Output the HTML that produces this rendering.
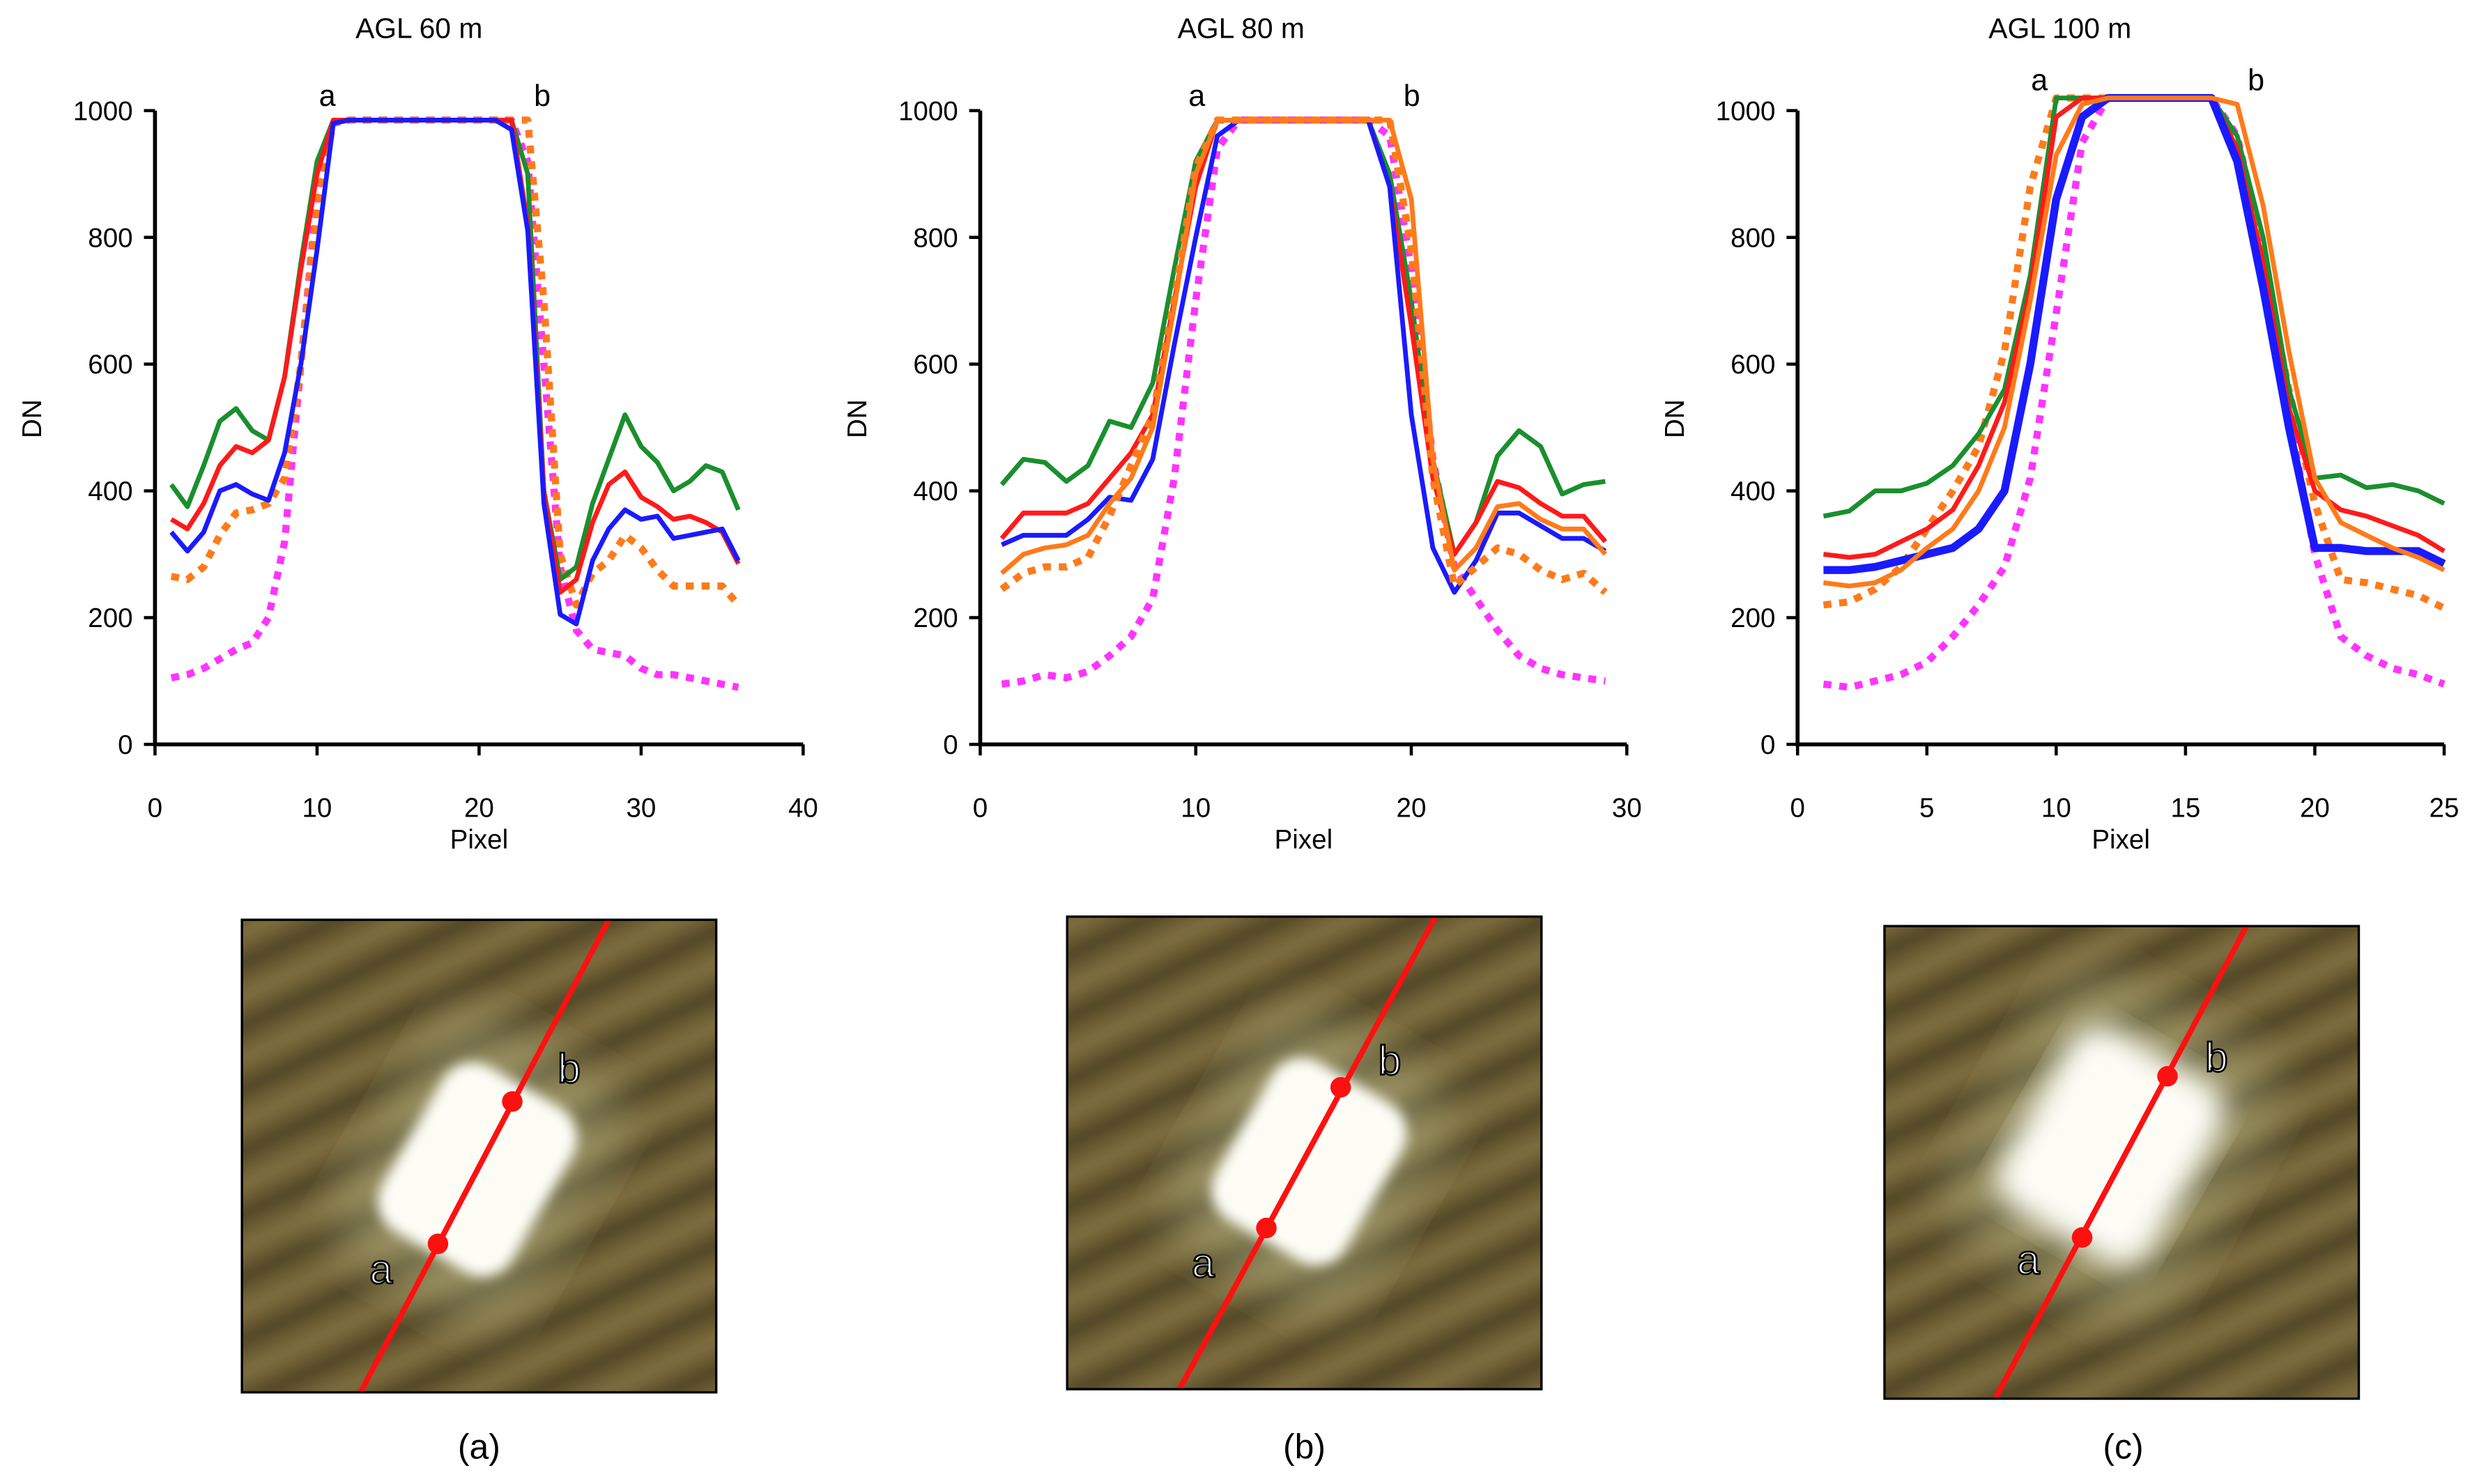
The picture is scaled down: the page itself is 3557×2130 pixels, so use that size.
<!DOCTYPE html>
<html><head><meta charset="utf-8"><style>
html,body{margin:0;padding:0;background:#fff;}
svg{display:block;font-family:"Liberation Sans",Arial,sans-serif;}
</style></head><body>
<svg id="fig" width="3557" height="2130" viewBox="0 0 1568 939" xmlns="http://www.w3.org/2000/svg">
<defs>
<pattern id="streaks" width="36" height="36" patternUnits="userSpaceOnUse" patternTransform="rotate(-25)">
<rect width="36" height="36" fill="#6e5e36"/><rect y="0" width="36" height="11" fill="#4a4024" opacity="0.8"/><rect y="20" width="36" height="8" fill="#8c7c4a" opacity="0.7"/>
</pattern>
<filter id="blur"><feGaussianBlur stdDeviation="4"/></filter>
<filter id="blurBig"><feGaussianBlur stdDeviation="9"/></filter>
<filter id="blurHuge"><feGaussianBlur stdDeviation="16"/></filter>
</defs>
<g id="charts"></g>
<g id="photos"></g>
</svg>
<script>
const NS="http://www.w3.org/2000/svg";
// ---- data ----
const c1x=[1,2,3,4,5,6,7,8,9,10,11,12,13,14,15,16,17,18,19,20,21,22,23,24,25,26,27,28,29,30,31,32,33,34,35,36];
const c1green=[410,375,440,510,530,495,480,580,760,920,985,985,985,985,985,985,985,985,985,985,985,985,900,400,260,280,380,450,520,470,445,400,415,440,430,370];
const c1red=[355,340,380,440,470,460,480,580,750,900,985,985,985,985,985,985,985,985,985,985,985,985,820,400,240,260,350,410,430,390,375,355,360,350,335,285];
const c1blue=[335,305,335,400,410,395,385,460,600,780,980,985,985,985,985,985,985,985,985,985,985,970,810,380,205,190,290,340,370,355,360,325,330,335,340,290];
const c1orangeDot=[265,260,280,330,365,370,380,420,600,850,980,985,985,985,985,985,985,985,985,985,985,985,985,700,300,220,270,290,330,310,275,250,250,250,250,220];
const c1magenta=[105,110,120,135,150,160,200,320,600,870,980,985,985,985,985,985,985,985,985,985,985,985,920,600,280,180,150,145,140,120,110,110,105,100,95,90];
const c2x=[1,2,3,4,5,6,7,8,9,10,11,12,13,14,15,16,17,18,19,20,21,22,23,24,25,26,27,28,29];
const c2green=[410,450,445,415,440,510,500,570,750,920,985,985,985,985,985,985,985,985,900,700,450,300,350,455,495,470,395,410,415];
const c2red=[325,365,365,365,380,420,460,520,700,880,985,985,985,985,985,985,985,985,880,660,420,300,350,415,405,380,360,360,320];
const c2blue=[315,330,330,330,355,390,385,450,630,800,960,985,985,985,985,985,985,985,880,520,310,240,290,365,365,345,325,325,305];
const c2orange=[270,300,310,315,330,380,420,500,690,900,985,985,985,985,985,985,985,985,985,860,450,275,310,375,380,355,340,340,300];
const c2orangeDot=[245,270,280,280,295,360,440,520,700,910,985,985,985,985,985,985,985,985,985,780,420,250,280,310,300,275,260,270,240];
const c2magenta=[95,100,110,105,115,140,170,230,420,700,940,985,985,985,985,985,985,985,960,750,450,280,230,180,140,120,110,105,100];
const c3x=[1,2,3,4,5,6,7,8,9,10,11,12,13,14,15,16,17,18,19,20,21,22,23,24,25];
const c3green=[360,368,400,400,412,440,490,560,740,1020,1020,1020,1020,1020,1020,1020,960,800,560,420,425,405,410,400,380];
const c3red=[300,295,300,320,340,370,440,540,720,990,1020,1020,1020,1020,1020,1020,940,760,530,400,370,360,345,330,305];
const c3blue=[275,275,280,290,300,310,340,400,600,860,990,1020,1020,1020,1020,1020,920,720,500,310,310,305,305,305,285];
const c3orange=[255,250,255,275,310,340,400,500,700,930,1010,1020,1020,1020,1020,1020,1010,850,620,420,350,330,310,295,275];
const c3orangeDot=[220,225,245,280,340,400,470,620,880,1020,1020,1020,1020,1020,1020,1020,930,760,560,380,260,255,245,235,215];
const c3magenta=[95,90,100,110,130,170,220,280,420,680,950,1020,1020,1020,1020,1020,960,780,520,300,170,140,120,110,95];
const yTicks=[0,200,400,600,800,1000];
const c1xTicks=[0,10,20,30,40];
const c2xTicks=[0,10,20,30];
const c3xTicks=[0,5,10,15,20,25];
const titles=["AGL 60 m","AGL 80 m","AGL 100 m"];

const GREEN="#1a8f2e",RED="#ff1a1a",BLUE="#1a1aff",ORANGE="#ff7a1a",MAG="#ff33ff";
function mk(tag,attrs,parent){const e=document.createElementNS(NS,tag);for(const k in attrs)e.setAttribute(k,attrs[k]);if(parent)parent.appendChild(e);return e;}
const root=document.getElementById('charts');
const Y0=471,Y1=70;
function yS(v){return Y0+(Y1-Y0)*v/1000;}
function chart(i,x0px,x1px,xmax,xTicks,xs,series,ab,title,tcx){
  const g=mk('g',{},root);
  
  
  const xS=v=>x0px+(x1px-x0px)*v/xmax;
  const t=mk('text',{x:tcx,y:24,'font-size':18,'text-anchor':'middle'},g);t.textContent=title;
  
  const ax=mk('path',{d:`M${x0px},${Y1} V${Y0} H${x1px}`,stroke:'#000','stroke-width':2.5,fill:'none'},g);
  
  yTicks.forEach(v=>{mk('line',{x1:x0px-7,x2:x0px,y1:yS(v),y2:yS(v),stroke:'#000','stroke-width':2},g);
    const l=mk('text',{x:x0px-14,y:yS(v)+6,'font-size':17,'text-anchor':'end'},g);l.textContent=v;
    });
  xTicks.forEach(v=>{mk('line',{x1:xS(v),x2:xS(v),y1:Y0,y2:Y0+7,stroke:'#000','stroke-width':2},g);
    const l=mk('text',{x:xS(v),y:Y0+46,'font-size':17,'text-anchor':'middle'},g);l.textContent=v;
    });
  const xl=mk('text',{x:(x0px+x1px)/2,y:537,'font-size':17,'text-anchor':'middle'},g);xl.textContent='Pixel';
  
  const yl=mk('text',{x:0,y:0,'font-size':17,'text-anchor':'middle',transform:`translate(${x0px-72},${265}) rotate(-90)`},g);yl.textContent='DN';
  
  series.forEach(s=>{
    const d=s.v.map((v,j)=>(j?'L':'M')+xS(xs[j]).toFixed(1)+','+yS(v).toFixed(1)).join(' ');
    const p=mk('path',{d:d,fill:'none',stroke:s.c,'stroke-width':s.w||3,'stroke-linejoin':'round'},g);
    if(s.dot){p.setAttribute('stroke-dasharray','5 5');p.setAttribute('stroke-width',4.5);}
    
    
  });
  ab.forEach(a=>{const l=mk('text',{x:a[1],y:a[2],'font-size':19,'text-anchor':'middle'},g);l.textContent=a[0];
    });
}
chart(0,98,508,40,c1xTicks,c1x,[
 {v:c1magenta,c:MAG,dot:1,n:'series-magenta'},{v:c1orangeDot,c:ORANGE,dot:1,n:'series-orange-dotted'},
 {v:c1green,c:GREEN,n:'series-green'},{v:c1red,c:RED,n:'series-red'},{v:c1blue,c:BLUE,n:'series-blue'}],
 [['a',207,67],['b',343,67]],titles[0],265);
chart(1,620,1029,30,c2xTicks,c2x,[
 {v:c2magenta,c:MAG,dot:1,n:'series-magenta'},{v:c2green,c:GREEN,n:'series-green'},{v:c2red,c:RED,n:'series-red'},
 {v:c2blue,c:BLUE,n:'series-blue'},{v:c2orange,c:ORANGE,n:'series-orange'},{v:c2orangeDot,c:ORANGE,dot:1,n:'series-orange-dotted'}],
 [['a',757,67],['b',893,67]],titles[1],785);
chart(2,1137,1546,25,c3xTicks,c3x,[
 {v:c3magenta,c:MAG,dot:1,n:'series-magenta'},{v:c3orangeDot,c:ORANGE,dot:1,n:'series-orange-dotted'},{v:c3green,c:GREEN,n:'series-green'},
 {v:c3red,c:RED,n:'series-red'},{v:c3blue,c:BLUE,w:5,n:'series-blue'},{v:c3orange,c:ORANGE,n:'series-orange'}],
 [['a',1290,57],['b',1427,57]],titles[2],1303);

// ---- photos ----
const photos=document.getElementById('photos');
const P=[
 {x:153,y:582,bx:302,by:740,w:95,h:120,blur:'blur',line:[228,881,385,582],a:[277,787],b:[324,697],la:[241,812],lb:[360,685],cap:[303,923,'(a)']},
 {x:675,y:580,bx:828,by:735,w:95,h:115,blur:'blur',line:[746,879,908,580],a:[801,777],b:[848,688],la:[761,808],lb:[879,680],cap:[825,923,'(b)']},
 {x:1192,y:586,bx:1335,by:725,w:110,h:130,blur:'blurBig',line:[1262,885,1421,586],a:[1317,783],b:[1371,681],la:[1283,806],lb:[1402,678],cap:[1343,923,'(c)']}];
P.forEach((p,i)=>{
  const g=mk('g',{},photos);
  
  
  const cid='clip'+i;const cp=mk('clipPath',{id:cid},g);mk('rect',{x:p.x,y:p.y,width:300,height:299},cp);
  const inner=mk('g',{'clip-path':`url(#${cid})`},g);
  mk('rect',{x:p.x,y:p.y,width:300,height:299,fill:'#65562f'},inner);
  mk('rect',{x:p.x-20,y:p.y-20,width:340,height:339,fill:'url(#streaks)',filter:'url(#blur)',opacity:0.9},inner);
  mk('rect',{x:p.bx-p.w*0.75,y:p.by-p.h*0.75,width:p.w*1.5,height:p.h*1.5,rx:40,fill:'#c8d0a0',opacity:0.35,filter:'url(#blurHuge)',transform:`rotate(30 ${p.bx} ${p.by})`},inner);
  mk('rect',{x:p.bx-p.w/2,y:p.by-p.h/2,width:p.w,height:p.h,rx:22,fill:'#fdfdf6',filter:`url(#${p.blur})`,transform:`rotate(30 ${p.bx} ${p.by})`},inner);
  const ln=mk('line',{x1:p.line[0],y1:p.line[1],x2:p.line[2],y2:p.line[3],stroke:'#ff1010','stroke-width':3.5},inner);
  
  mk('rect',{x:p.x,y:p.y,width:300,height:299,fill:'none',stroke:'#000','stroke-width':1.5},g);
  [p.a,p.b].forEach(pt=>mk('circle',{cx:pt[0],cy:pt[1],r:6.5,fill:'#ff1010'},g));
  [['a',p.la],['b',p.lb]].forEach(q=>{const t=mk('text',{x:q[1][0],y:q[1][1],'font-size':26,'text-anchor':'middle',fill:'#fff',stroke:'#000','stroke-width':1.2},g);t.textContent=q[0];
    });
  const c=mk('text',{x:p.cap[0],y:p.cap[1],'font-size':22,'text-anchor':'middle'},g);c.textContent=p.cap[2];
  
});
</script>
</body></html>
